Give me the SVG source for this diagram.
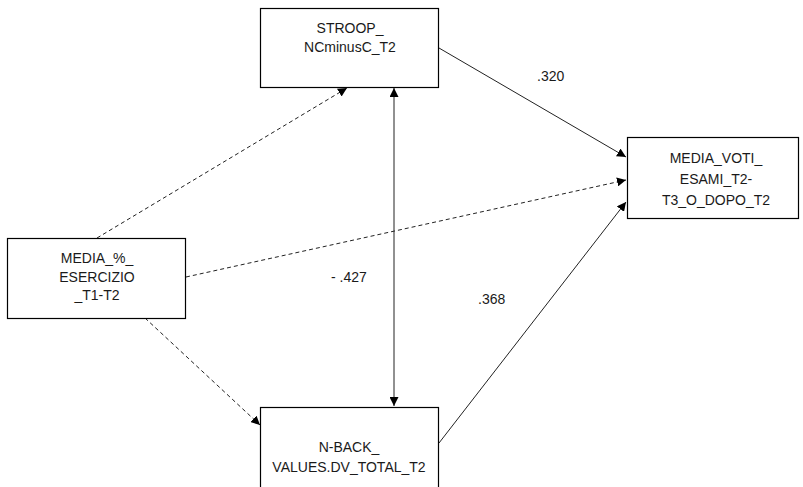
<svg xmlns="http://www.w3.org/2000/svg" width="803" height="487" viewBox="0 0 803 487">
<style>
.box{fill:#fff;stroke:#000;stroke-width:1.2}
.t{font-family:"Liberation Sans",Arial,sans-serif;font-size:14px;fill:#1a1a1a;text-anchor:middle}
.lbl{font-family:"Liberation Sans",Arial,sans-serif;font-size:14px;fill:#1a1a1a}
.c{fill:none;stroke:#222;stroke-width:1}
.d{stroke-dasharray:4 3}
</style>
<defs>
<marker id="ah" viewBox="0 0 10 10" refX="10" refY="5" markerWidth="9" markerHeight="9" markerUnits="userSpaceOnUse" orient="auto-start-reverse">
<path d="M0,0 L10,5 L0,10 z" fill="#000"/>
</marker>
</defs>
<rect width="803" height="487" fill="#fff"/>
<g id="connectors">
<line class="c d" x1="97" y1="238" x2="347" y2="88" marker-end="url(#ah)"/>
<line class="c" x1="394" y1="88" x2="394" y2="406" marker-start="url(#ah)" marker-end="url(#ah)"/>
<line class="c" x1="439" y1="48" x2="626" y2="157" marker-end="url(#ah)"/>
<line class="c d" x1="186" y1="277" x2="626" y2="180" marker-end="url(#ah)"/>
<line class="c d" x1="145" y1="318" x2="260" y2="425" marker-end="url(#ah)"/>
<line class="c" x1="439" y1="443" x2="626" y2="202" marker-end="url(#ah)"/>
<text class="lbl" x="537" y="81">.320</text>
<text class="lbl" x="331" y="282">- .427</text>
<text class="lbl" x="478" y="304">.368</text>
</g>
<g id="stroop">
<rect class="box" x="260.5" y="8.5" width="178" height="79"/>
<text class="t" x="350" y="33">STROOP_</text>
<text class="t" x="350" y="52">NCminusC_T2</text>
</g>
<g id="media_voti">
<rect class="box" x="627.5" y="137.5" width="171" height="81"/>
<text class="t" x="716" y="163">MEDIA_VOTI_</text>
<text class="t" x="716" y="184">ESAMI_T2-</text>
<text class="t" x="716" y="205">T3_O_DOPO_T2</text>
</g>
<g id="media_esercizio">
<rect class="box" x="7.5" y="238.5" width="178" height="80"/>
<text class="t" x="97" y="263">MEDIA_%_</text>
<text class="t" x="97" y="282">ESERCIZIO</text>
<text class="t" x="97" y="300">_T1-T2</text>
</g>
<g id="nback">
<rect class="box" x="260.5" y="407.5" width="178" height="90"/>
<text class="t" x="349" y="452">N-BACK_</text>
<text class="t" x="349" y="472">VALUES.DV_TOTAL_T2</text>
</g>
</svg>
